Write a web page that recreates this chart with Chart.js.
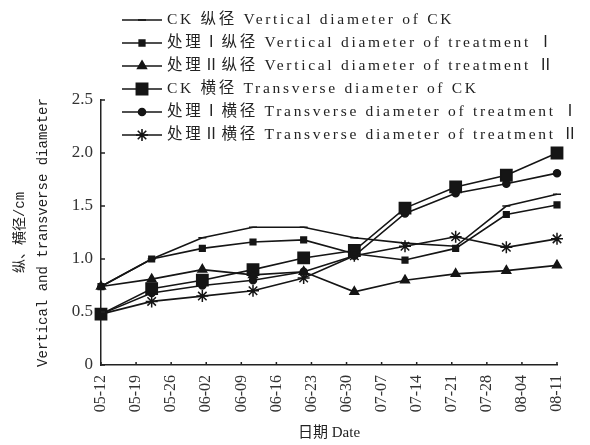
<!DOCTYPE html>
<html>
<head>
<meta charset="utf-8">
<script src="https://cdn.jsdelivr.net/npm/chart.js@4.4.1/dist/chart.umd.min.js"></script>
<style>
html, body { margin: 0; padding: 0; background: #fff; }
</style>
</head>
<body>
<canvas id="grafico" width="590" height="445"></canvas>
<script>
// fechas del eje x (las que se ven en la figura)
var fechas = ['05-12', '05-19', '05-26', '06-02', '06-09', '06-16', '06-23',
              '06-30', '07-07', '07-14', '07-21', '07-28', '08-04', '08-11'];
// los 10 muestreos reales van en un eje oculto
var muestreos = ['1', '2', '3', '4', '5', '6', '7', '8', '9', '10'];

var ckVertical    = [0.74, 1.00, 1.20, 1.30, 1.30, 1.20, 1.15, 1.12, 1.50, 1.61];
var t1Vertical    = [0.74, 1.00, 1.10, 1.16, 1.18, 1.05, 0.99, 1.10, 1.42, 1.51];
var t2Vertical    = [0.74, 0.81, 0.90, 0.85, 0.88, 0.69, 0.80, 0.86, 0.89, 0.94];
var ckTransversal = [0.48, 0.72, 0.80, 0.90, 1.01, 1.08, 1.48, 1.68, 1.79, 2.00];
var t1Transversal = [0.48, 0.68, 0.75, 0.80, 0.88, 1.03, 1.43, 1.62, 1.71, 1.81];
var t2Transversal = [0.48, 0.60, 0.65, 0.70, 0.82, 1.03, 1.12, 1.21, 1.11, 1.19];

var nombres = [
    'CK 纵径 Vertical diameter of CK',
    '处理Ⅰ纵径 Vertical diameter of treatment Ⅰ',
    '处理Ⅱ纵径 Vertical diameter of treatment Ⅱ',
    'CK 横径 Transverse diameter of CK',
    '处理Ⅰ横径 Transverse diameter of treatment Ⅰ',
    '处理Ⅱ横径 Transverse diameter of treatment Ⅱ'
];

var yMin = 0, yMax = 2.5, yPaso = 0.5;
var tituloY = ['纵、横径/cm', 'Vertical and transverse diameter'];
var tituloX = '日期 Date';

var negro = '#151515';

function serie(label, data, estilo, radio) {
    return {
        label: label,
        data: data,
        xAxisID: 'x2',
        borderColor: negro,
        borderWidth: 1.6,
        pointStyle: estilo,
        pointRadius: radio,
        pointBackgroundColor: negro,
        pointBorderColor: negro,
        pointBorderWidth: 1.5,
        tension: 0,
        fill: false
    };
}

// leyenda dibujada a mano: linea + marcador + texto, una por fila
var leyenda = {
    id: 'leyenda',
    afterDraw: function(chart) {
        var c = chart.ctx;
        c.save();
        chart.data.datasets.forEach(function(ds, i) {
            var y = 20 + i * 23;
            c.strokeStyle = negro;
            c.fillStyle = negro;
            c.lineWidth = 1.6;
            c.beginPath();
            c.moveTo(122, y);
            c.lineTo(162, y);
            c.stroke();
            if (Chart.helpers && Chart.helpers.drawPoint) {
                Chart.helpers.drawPoint(c, {
                    pointStyle: ds.pointStyle,
                    radius: ds.pointRadius,
                    rotation: 0,
                    borderWidth: 1.5
                }, 142, y);
            }
            c.fillStyle = '#222';
            c.font = '15.5px "Liberation Serif", "Noto Sans CJK SC"';
            if ('letterSpacing' in c) c.letterSpacing = '2.7px';
            c.textBaseline = 'middle';
            c.textAlign = 'left';
            c.fillText(ds.label, 167, y);
            if ('letterSpacing' in c) c.letterSpacing = '0px';
        });
        c.restore();
    }
};

// marcas cortas hacia dentro en los dos ejes
var marcas = {
    id: 'marcas',
    afterDraw: function(chart) {
        var c = chart.ctx, area = chart.chartArea;
        var sx = chart.scales.x, sy = chart.scales.y;
        c.save();
        c.strokeStyle = '#222';
        c.lineWidth = 1.5;
        c.beginPath();
        sy.ticks.forEach(function(t, i) {
            var py = sy.getPixelForTick(i);
            c.moveTo(area.left, py);
            c.lineTo(area.left + 4, py);
        });
        sx.ticks.forEach(function(t, i) {
            var px = sx.getPixelForTick(i);
            c.moveTo(px, area.bottom);
            c.lineTo(px, area.bottom - 3);
        });
        c.stroke();
        c.restore();
    }
};

var ctx = document.getElementById('grafico').getContext('2d');
var grafico = new Chart(ctx, {
    type: 'line',
    data: {
        datasets: [
            serie(nombres[0], ckVertical, 'line', 4),
            serie(nombres[1], t1Vertical, 'rect', 4),
            serie(nombres[2], t2Vertical, 'triangle', 5),
            serie(nombres[3], ckTransversal, 'rect', 8),
            serie(nombres[4], t1Transversal, 'circle', 3.5),
            serie(nombres[5], t2Transversal, 'star', 6)
        ]
    },
    options: {
        responsive: false,
        animation: false,
        layout: { padding: { top: 100, right: 33, left: 8, bottom: 3 } },
        plugins: {
            legend: { display: false },
            tooltip: { enabled: false }
        },
        scales: {
            x: {
                type: 'category',
                labels: fechas,
                offset: false,
                grid: { display: false, drawTicks: false },
                border: { display: true, color: '#222', width: 1.5 },
                ticks: {
                    autoSkip: false,
                    minRotation: 90,
                    maxRotation: 90,
                    padding: 10,
                    color: '#333',
                    font: { family: '"Liberation Serif"', size: 16 }
                },
                title: {
                    display: true,
                    text: tituloX,
                    color: '#222',
                    padding: { top: 2, bottom: 0 },
                    font: { family: '"Liberation Serif", "Noto Sans CJK SC"', size: 15 }
                },
                afterFit: function(s) { s.height = 77; }
            },
            x2: {
                type: 'category',
                labels: muestreos,
                offset: false,
                display: false
            },
            y: {
                min: yMin,
                max: yMax,
                grid: { display: false, drawTicks: false },
                border: { display: true, color: '#222', width: 1.5 },
                ticks: {
                    stepSize: yPaso,
                    padding: 8,
                    color: '#333',
                    font: { family: '"Liberation Serif"', size: 17 },
                    callback: function(v) { return v === 0 ? '0' : v.toFixed(1); }
                },
                title: {
                    display: true,
                    text: tituloY,
                    color: '#222',
                    padding: 0,
                    font: { family: '"Liberation Mono", "Noto Sans CJK SC"', size: 14, lineHeight: 1.7 }
                },
                afterFit: function(s) { s.width = 93; }
            }
        }
    },
    plugins: [leyenda, marcas]
});
</script>
</body>
</html>
